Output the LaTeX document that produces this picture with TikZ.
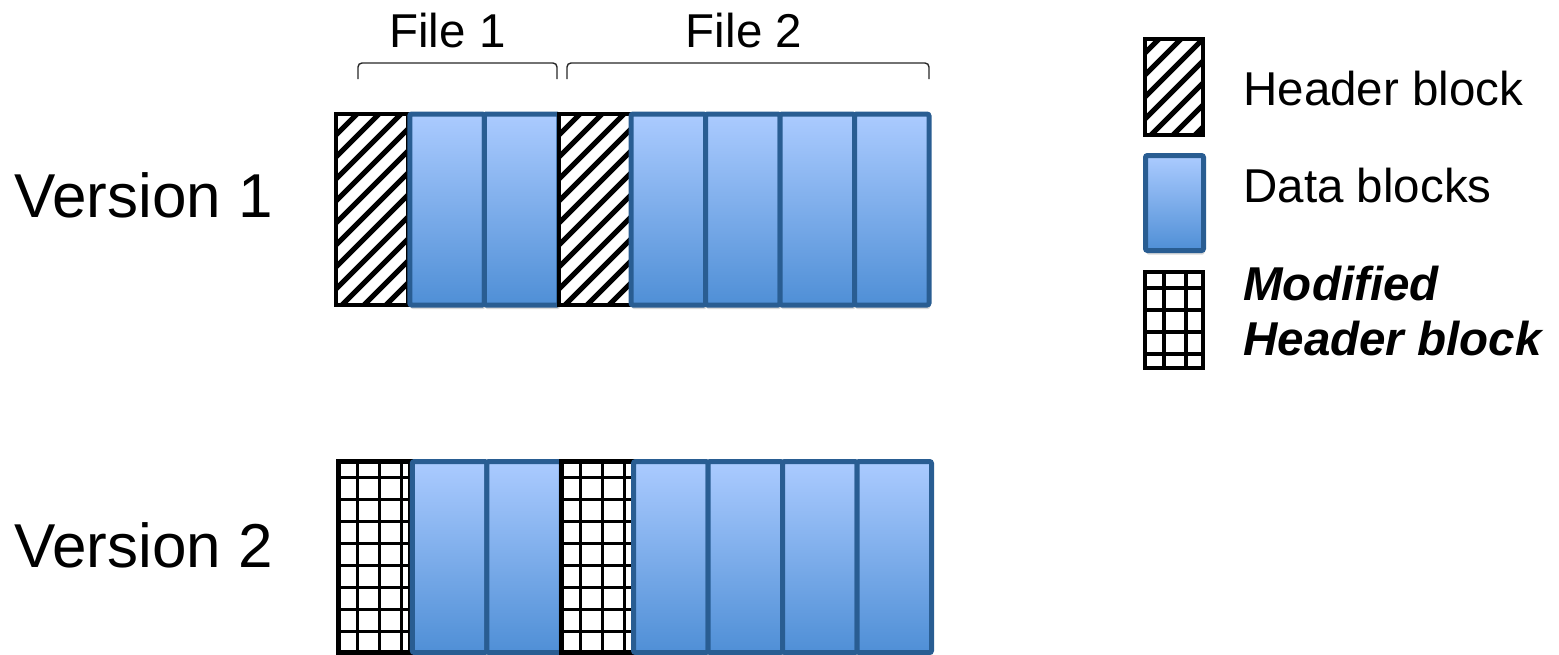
\documentclass[tikz,border=0pt]{standalone}
\usepackage{fontspec}
\setmainfont{Liberation Sans}
\definecolor{blktop}{RGB}{171,203,255}
\definecolor{blkbot}{RGB}{79,143,214}
\definecolor{blkedge}{RGB}{41,93,146}
\usetikzlibrary{shadows,calc}

\begin{document}
\begin{tikzpicture}[x=0.5pt,y=-0.5pt,
    lbl/.style={font=\fontsize{23.75pt}{27.5pt}\selectfont,inner sep=0pt},
    verlbl/.style={font=\fontsize{31pt}{36pt}\selectfont,inner sep=0pt,anchor=base west},
    hdrblock/.style={draw=black,line width=2.2pt,fill=white,inner sep=0pt,
      minimum width=36pt,minimum height=95.5pt,
      path picture={\foreach \k in {-10,...,4}
        \draw[black,line width=2.5pt] ([xshift=3pt+(\k)*11pt]path picture bounding box.south west) -- ++(130pt,130pt);}},
    modblock/.style={draw=black,line width=2.2pt,fill=white,inner sep=0pt,
      minimum width=36pt,minimum height=95.5pt,
      path picture={\foreach \k in {0,...,3}
          \draw[black,line width=1.6pt] ([xshift=9.5pt+\k*11pt]path picture bounding box.north west) -- ([xshift=9.5pt+\k*11pt]path picture bounding box.south west);
        \foreach \k in {0,...,8}
          \draw[black,line width=1.6pt] ([yshift=-8pt-\k*11pt]path picture bounding box.north west) -- ([yshift=-8pt-\k*11pt]path picture bounding box.north east);}},
    datablock/.style={draw=blkedge,line width=2.5pt,rounded corners=1pt,
      top color=blktop,bottom color=blkbot,inner sep=0pt,
      minimum width=37.25pt,minimum height=95.5pt,
      drop shadow={shadow xshift=0.5pt,shadow yshift=-2pt,opacity=0.3}},
    bracket/.style={line width=0.7pt,black!85,rounded corners=2pt}]
  \useasboundingbox (0,0) rectangle (1559,654);

  \foreach \r/\ry/\rx/\ly/\hd in {1/209.5/0/217/hdrblock,2/557/2.5/567/modblock}{
    \node[verlbl] (ver\r) at (14,\ly) {Version \r};
    \node[\hd] (v\r h1) at (372+\rx,\ry) {};
    \node[datablock] (v\r d1) at (447+\rx,\ry) {};
    \node[datablock] (v\r d2) at (521.5+\rx,\ry) {};
    \node[\hd] (v\r h2) at (595+\rx,\ry) {};
    \foreach \i/\cx in {3/668.25,4/742.75,5/817.25,6/891.75}
      \node[datablock] (v\r d\i) at (\cx+\rx,\ry) {};
  }

  \draw[bracket] (358,79) |- (557,63) -- (557,79);
  \draw[bracket] (567,79) |- (929,63) -- (929,79);
  \node[lbl,anchor=base] (file1) at (447.5,47) {File 1};
  \node[lbl,anchor=base] (file2) at (744,47) {File 2};

  \node[hdrblock,minimum width=29pt,minimum height=48pt] (keyhdr) at (1174,87) {};
  \node[lbl,anchor=base west] (keyhdrtxt) at (1243,105) {Header block};
  \node[datablock,minimum width=29pt,minimum height=47.5pt] (keydata) at (1174.5,203) {};
  \node[lbl,anchor=base west] (keydatatxt) at (1243,202) {Data blocks};
  \node[modblock,minimum width=29pt,minimum height=48pt] (keymod) at (1174,320) {};
  \node[lbl,anchor=base west,align=left,font=\bfseries\itshape\fontsize{23.75pt}{27.5pt}\selectfont] (keymodtxt) at (1243,355) {Modified\\Header block};
\end{tikzpicture}
\end{document}
